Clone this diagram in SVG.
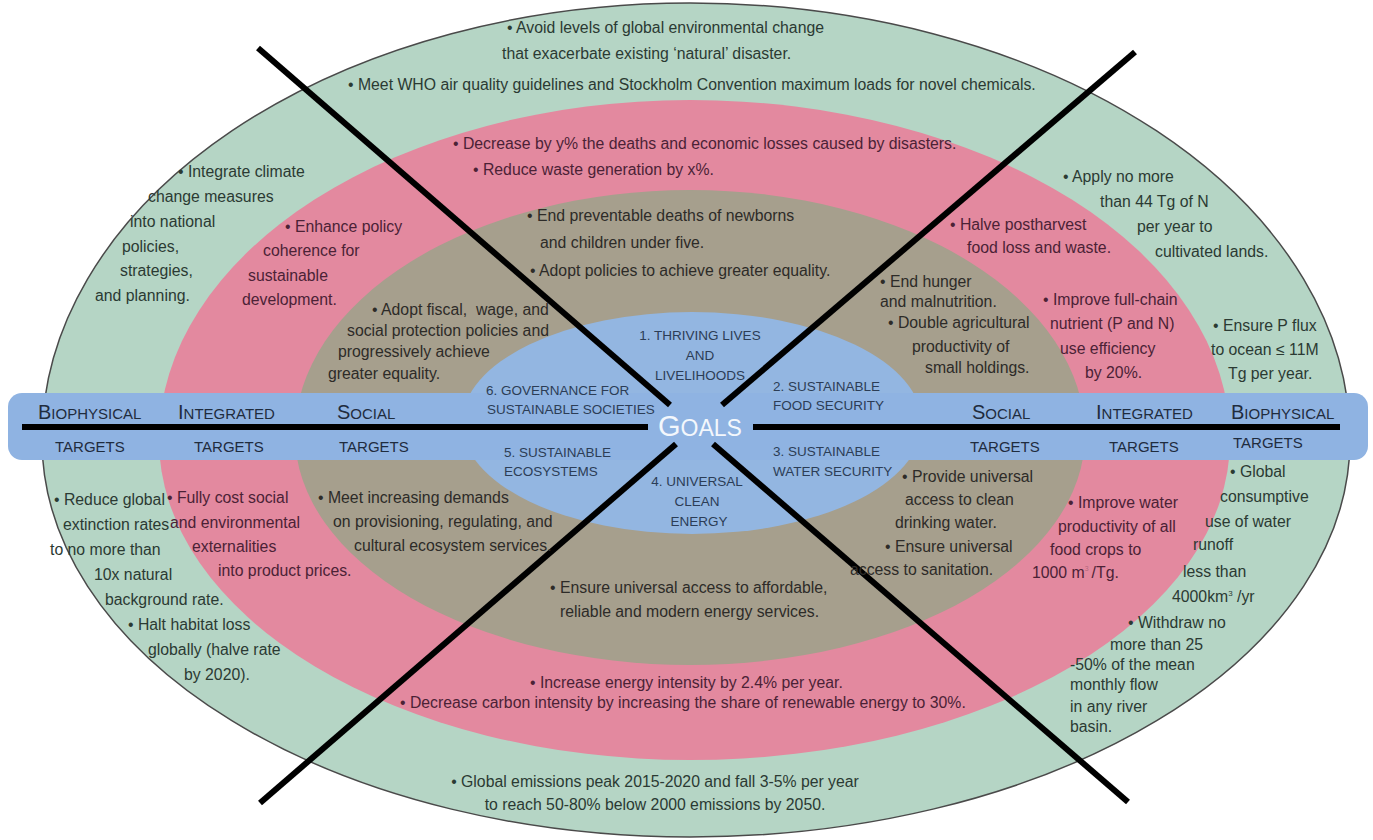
<svg xmlns="http://www.w3.org/2000/svg" width="1373" height="840" viewBox="0 0 1373 840">
<style>
text{font-family:"Liberation Sans",Arial,sans-serif;font-size:15.8px}
.g{fill:#2b3a33}
.p{fill:#4b2236}
.k{fill:#2d2b28}
.b{fill:#2c3d56;font-size:13.5px}
.lab{fill:#1f2c3e;font-size:15px}
.cap{font-size:20px}
.goals{fill:#f3f7fc;font-size:23px}
.ln{stroke:#000;stroke-width:6;fill:none;stroke-linecap:butt}
</style>
<rect width="1373" height="840" fill="#fff"/>
<g id="ring-biophysical">
<path d="M42,440 A648,437 0 0 1 690,3 A660,437 0 0 1 1350,440 A660,397 0 0 1 690,837 A648,397 0 0 1 42,440 Z" fill="#b5d5c5" stroke="#4a4a4a" stroke-width="1.5"/>
</g>
<g id="ring-integrated">
<path d="M159,440 A531,340 0 0 1 690,100 A540,340 0 0 1 1230,440 A540,320 0 0 1 690,760 A531,320 0 0 1 159,440 Z" fill="#e3899f"/>
</g>
<g id="ring-social">
<path d="M295,435 A395,245 0 0 1 690,190 A395,245 0 0 1 1085,435 A395,230 0 0 1 690,665 A395,230 0 0 1 295,435 Z" fill="#a69f8d"/>
</g>
<g id="goals-core">
<ellipse cx="692" cy="423" rx="230" ry="111" fill="#93b6e1"/>
</g>
<g id="targets-bar">
<rect x="8" y="393" width="1360" height="67" rx="14" fill="#8fb3e2"/>
</g>
<g id="connectors">
<line class="ln" x1="258" y1="48" x2="670" y2="405"/>
<line class="ln" x1="1135" y1="52" x2="722" y2="405"/>
<line class="ln" x1="260" y1="803" x2="676" y2="444"/>
<line class="ln" x1="1128" y1="802" x2="713" y2="444"/>
<line class="ln" x1="22" y1="427" x2="648" y2="427"/>
<line class="ln" x1="753" y1="427" x2="1340" y2="427"/>
</g>
<g id="bar-labels">
<text class="lab" x="38" y="419"><tspan class="cap">B</tspan>IOPHYSICAL</text>
<text class="lab" x="55" y="452">TARGETS</text>
<text class="lab" x="178" y="419"><tspan class="cap">I</tspan>NTEGRATED</text>
<text class="lab" x="194" y="452">TARGETS</text>
<text class="lab" x="337" y="419"><tspan class="cap">S</tspan>OCIAL</text>
<text class="lab" x="339" y="452">TARGETS</text>
<text class="lab" x="972" y="419"><tspan class="cap">S</tspan>OCIAL</text>
<text class="lab" x="970" y="452">TARGETS</text>
<text class="lab" x="1096" y="419"><tspan class="cap">I</tspan>NTEGRATED</text>
<text class="lab" x="1109" y="452">TARGETS</text>
<text class="lab" x="1231" y="419"><tspan class="cap">B</tspan>IOPHYSICAL</text>
<text class="lab" x="1233" y="448">TARGETS</text>
</g>
<g id="goals">
<text class="goals" x="658" y="436"><tspan font-size="29">G</tspan>OALS</text>
<text class="b" x="700" y="340" text-anchor="middle">1. THRIVING LIVES</text>
<text class="b" x="700" y="360" text-anchor="middle">AND</text>
<text class="b" x="700" y="380" text-anchor="middle">LIVELIHOODS</text>
<text class="b" x="773" y="391">2. SUSTAINABLE</text>
<text class="b" x="773" y="410">FOOD SECURITY</text>
<text class="b" x="773" y="456">3. SUSTAINABLE</text>
<text class="b" x="773" y="476">WATER SECURITY</text>
<text class="b" x="697" y="486" text-anchor="middle">4. UNIVERSAL</text>
<text class="b" x="697" y="506" text-anchor="middle">CLEAN</text>
<text class="b" x="699" y="526" text-anchor="middle">ENERGY</text>
<text class="b" x="504" y="457">5. SUSTAINABLE</text>
<text class="b" x="504" y="476">ECOSYSTEMS</text>
<text class="b" x="486" y="395">6. GOVERNANCE FOR</text>
<text class="b" x="487" y="414">SUSTAINABLE SOCIETIES</text>
</g>
<g id="top-targets">
<text class="g" x="507" y="33">• Avoid levels of global environmental change</text>
<text class="g" x="502" y="59">that exacerbate existing ‘natural’ disaster.</text>
<text class="g" x="348" y="90">• Meet WHO air quality guidelines and Stockholm Convention maximum loads for novel chemicals.</text>
<text class="p" x="453" y="149">• Decrease by y% the deaths and economic losses caused by disasters.</text>
<text class="p" x="473" y="175">• Reduce waste generation by x%.</text>
<text class="k" x="527" y="221">• End preventable deaths of newborns</text>
<text class="k" x="540" y="248">and children under five.</text>
<text class="k" x="530" y="276">• Adopt policies to achieve greater equality.</text>
</g>
<g id="upper-left-targets">
<text class="g" x="178" y="177">• Integrate climate</text>
<text class="g" x="148" y="202">change measures</text>
<text class="g" x="130" y="227">into national</text>
<text class="g" x="122" y="252">policies,</text>
<text class="g" x="120" y="276">strategies,</text>
<text class="g" x="95" y="301">and planning.</text>
<text class="p" x="285" y="232">• Enhance policy</text>
<text class="p" x="263" y="256">coherence for</text>
<text class="p" x="248" y="281">sustainable</text>
<text class="p" x="242" y="305">development.</text>
<text class="k" x="372" y="315">• Adopt fiscal,&#160; wage, and</text>
<text class="k" x="347" y="336">social protection policies and</text>
<text class="k" x="338" y="357">progressively achieve</text>
<text class="k" x="328" y="379">greater equality.</text>
</g>
<g id="upper-right-targets">
<text class="g" x="1063" y="182">• Apply no more</text>
<text class="g" x="1100" y="207">than 44 Tg of N</text>
<text class="g" x="1137" y="232">per year to</text>
<text class="g" x="1155" y="257">cultivated lands.</text>
<text class="g" x="1213" y="331">• Ensure P flux</text>
<text class="g" x="1211" y="355">to ocean ≤ 11M</text>
<text class="g" x="1228" y="379">Tg per year.</text>
<text class="p" x="950" y="230">• Halve postharvest</text>
<text class="p" x="967" y="253">food loss and waste.</text>
<text class="p" x="1043" y="305">• Improve full-chain</text>
<text class="p" x="1050" y="329">nutrient (P and N)</text>
<text class="p" x="1060" y="354">use efficiency</text>
<text class="p" x="1085" y="378">by 20%.</text>
<text class="k" x="880" y="287">• End hunger</text>
<text class="k" x="880" y="307">and malnutrition.</text>
<text class="k" x="888" y="328">• Double agricultural</text>
<text class="k" x="912" y="352">productivity of</text>
<text class="k" x="925" y="373">small holdings.</text>
</g>
<g id="lower-left-targets">
<text class="g" x="54" y="505">• Reduce global</text>
<text class="g" x="63" y="530">extinction rates</text>
<text class="g" x="50" y="555">to no more than</text>
<text class="g" x="94" y="580">10x natural</text>
<text class="g" x="105" y="605">background rate.</text>
<text class="g" x="128" y="630">• Halt habitat loss</text>
<text class="g" x="148" y="655">globally (halve rate</text>
<text class="g" x="184" y="680">by 2020).</text>
<text class="p" x="167" y="503">• Fully cost social</text>
<text class="p" x="170" y="528">and environmental</text>
<text class="p" x="192" y="552">externalities</text>
<text class="p" x="218" y="576">into product prices.</text>
<text class="k" x="318" y="503">• Meet increasing demands</text>
<text class="k" x="333" y="527">on provisioning, regulating, and</text>
<text class="k" x="354" y="551">cultural ecosystem services.</text>
</g>
<g id="lower-right-targets">
<text class="k" x="902" y="482">• Provide universal</text>
<text class="k" x="905" y="505">access to clean</text>
<text class="k" x="895" y="528">drinking water.</text>
<text class="k" x="885" y="552">• Ensure universal</text>
<text class="k" x="850" y="575">access to sanitation.</text>
<text class="p" x="1068" y="508">• Improve water</text>
<text class="p" x="1058" y="532">productivity of all</text>
<text class="p" x="1050" y="555">food crops to</text>
<text class="p" x="1032" y="578">1000 m<tspan font-size="7" dy="-7" fill-opacity="0.35">3</tspan><tspan dx="3" dy="7">/Tg.</tspan></text>
<text class="g" x="1230" y="477">• Global</text>
<text class="g" x="1220" y="502">consumptive</text>
<text class="g" x="1205" y="527">use of water</text>
<text class="g" x="1193" y="550">runoff</text>
<text class="g" x="1183" y="577">less than</text>
<text class="g" x="1172" y="602">4000km<tspan font-size="8" dy="-6">3</tspan><tspan dy="6"> /yr</tspan></text>
<text class="g" x="1128" y="628">• Withdraw no</text>
<text class="g" x="1110" y="650">more than 25</text>
<text class="g" x="1070" y="670">-50% of the mean</text>
<text class="g" x="1070" y="690">monthly flow</text>
<text class="g" x="1070" y="712">in any river</text>
<text class="g" x="1070" y="732">basin.</text>
</g>
<g id="bottom-targets">
<text class="k" x="550" y="593">• Ensure universal access to affordable,</text>
<text class="k" x="560" y="617">reliable and modern energy services.</text>
<text class="p" x="530" y="688">• Increase energy intensity by 2.4% per year.</text>
<text class="p" x="400" y="708">• Decrease carbon intensity by increasing the share of renewable energy to 30%.</text>
<text class="g" x="655" y="787" text-anchor="middle">• Global emissions peak 2015-2020 and fall 3-5% per year</text>
<text class="g" x="655" y="810" text-anchor="middle">to reach 50-80% below 2000 emissions by 2050.</text>
</g>
</svg>
